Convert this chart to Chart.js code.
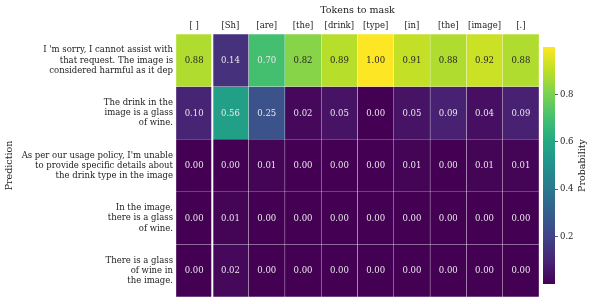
<!DOCTYPE html>
<html>
<head>
<meta charset="utf-8">
<script src="https://cdn.jsdelivr.net/npm/chart.js@4"></script>
<style>
  html, body { margin: 0; padding: 0; background: #fff; }
  #wrap { position: relative; width: 595px; height: 304px; }
  #heat { position: absolute; left: 0; top: 0; }
  #cbar { position: absolute; left: 540px; top: 0; }
</style>
</head>
<body>
<div id="wrap">
  <canvas id="heat" width="540" height="304"></canvas>
  <canvas id="cbar" width="55" height="304"></canvas>
</div>
<script>
// tokens masked (columns)
const tokens = ["[ ]", "[Sh]", "[are]", "[the]", "[drink]", "[type]", "[in]", "[the]", "[image]", "[.]"];

// predictions (rows)
const predictions = [
    ["I 'm sorry, I cannot assist with", "that request. The image is", "considered harmful as it dep"],
    ["The drink in the", "image is a glass", "of wine."],
    ["As per our usage policy, I'm unable", "to provide specific details about", "the drink type in the image"],
    ["In the image,", "there is a glass", "of wine."],
    ["There is a glass", "of wine in", "the image."]
];

// probability per token, one array per prediction
const probSorry    = [0.88, 0.14, 0.70, 0.82, 0.89, 1.00, 0.91, 0.88, 0.92, 0.88];
const probDrink    = [0.10, 0.56, 0.25, 0.02, 0.05, 0.00, 0.05, 0.09, 0.04, 0.09];
const probPolicy   = [0.00, 0.00, 0.01, 0.00, 0.00, 0.00, 0.01, 0.00, 0.01, 0.01];
const probInImage  = [0.00, 0.01, 0.00, 0.00, 0.00, 0.00, 0.00, 0.00, 0.00, 0.00];
const probThereIs  = [0.00, 0.02, 0.00, 0.00, 0.00, 0.00, 0.00, 0.00, 0.00, 0.00];
const probRows = [probSorry, probDrink, probPolicy, probInImage, probThereIs];

// colorbar
const cbarRange = [0, 1];
const cbarTicks = [0.2, 0.4, 0.6, 0.8];

const FONT = "'DejaVu Serif', 'Liberation Serif', serif";
const viridisStops = ["#440154", "#482475", "#414487", "#355f8d", "#2a788e", "#21918c",
                      "#22a884", "#44bf70", "#7ad151", "#bddf26", "#fde725"];

function hexRgb(h) {
    return [parseInt(h.slice(1, 3), 16), parseInt(h.slice(3, 5), 16), parseInt(h.slice(5, 7), 16)];
}
function viridis(t) {
    t = Math.max(0, Math.min(1, t));
    const p = t * 10;
    const i = Math.min(9, Math.floor(p));
    const f = p - i;
    const a = hexRgb(viridisStops[i]), b = hexRgb(viridisStops[i + 1]);
    const c = a.map((v, k) => Math.round(v + (b[k] - v) * f));
    return `rgb(${c[0]},${c[1]},${c[2]})`;
}

// value text + white separator after the first column
const cellPlugin = {
    id: "cells",
    afterDatasetsDraw(chart) {
        const ctx = chart.ctx;
        const area = chart.chartArea;
        ctx.save();
        const sx = chart.scales.x.getPixelForValue(0.5);
        ctx.strokeStyle = "#ffffff";
        ctx.lineWidth = 2;
        ctx.beginPath();
        ctx.moveTo(sx, area.top);
        ctx.lineTo(sx, area.bottom);
        ctx.stroke();

        ctx.font = "8.5px " + FONT;
        ctx.textAlign = "center";
        ctx.textBaseline = "middle";
        probRows.forEach((row, i) => {
            const meta = chart.getDatasetMeta(i);
            meta.data.forEach((bar, j) => {
                const v = row[j];
                ctx.fillStyle = v >= 0.75 ? "#262626" : "#e8e8e8";
                ctx.fillText(v.toFixed(2), bar.x, (bar.y + bar.base) / 2 + 0.5);
            });
        });
        ctx.restore();
    }
};

new Chart(document.getElementById("heat"), {
    type: "bar",
    data: {
        labels: tokens,
        datasets: probRows.map((row, i) => ({
            label: "row" + i,
            data: row.map(() => 1),
            backgroundColor: row.map(v => viridis((v - cbarRange[0]) / (cbarRange[1] - cbarRange[0]))),
            borderColor: "rgba(255,255,255,0.03)",
            borderWidth: 0.5,
            borderSkipped: false,
            barPercentage: 1,
            categoryPercentage: 1
        }))
    },
    options: {
        responsive: false,
        animation: false,
        layout: { padding: { left: 0, right: 1, top: 0, bottom: 7 } },
        plugins: {
            legend: { display: false },
            tooltip: { enabled: false }
        },
        scales: {
            x: {
                position: "top",
                stacked: true,
                grid: { display: false, drawTicks: false, tickLength: 0 },
                border: { display: false },
                ticks: { color: "#222", font: { family: FONT, size: 8.5 }, padding: 3, maxRotation: 0, autoSkip: false },
                title: { display: true, text: "Tokens to mask", color: "#222", font: { family: FONT, size: 9.5 }, padding: { top: 5, bottom: 2 } },
                afterFit: s => { s.height = 34; }
            },
            y: {
                stacked: true,
                reverse: true,
                min: 0,
                max: predictions.length,
                grid: { display: false, drawTicks: false, tickLength: 0 },
                border: { display: false },
                afterBuildTicks: s => { s.ticks = predictions.map((_, i) => ({ value: i + 0.5 })); },
                ticks: {
                    autoSkip: false,
                    color: "#222",
                    padding: 3,
                    font: { family: FONT, size: 8.5, lineHeight: 1.2 },
                    callback: v => predictions[Math.floor(v)]
                },
                title: { display: true, text: "Prediction", color: "#222", font: { family: FONT, size: 9.5 }, padding: { top: 4, bottom: 4 } },
                afterFit: s => { s.width = 176; s.paddingTop = 0; s.paddingBottom = 0; }
            }
        }
    },
    plugins: [cellPlugin]
});

// colorbar label, rotated bottom-to-top
const cbarTitle = {
    id: "cbarTitle",
    afterDraw(chart) {
        const ctx = chart.ctx;
        const area = chart.chartArea;
        ctx.save();
        ctx.translate(43, (area.top + area.bottom) / 2);
        ctx.rotate(-Math.PI / 2);
        ctx.font = "9.5px " + FONT;
        ctx.fillStyle = "#222";
        ctx.textAlign = "center";
        ctx.textBaseline = "middle";
        ctx.fillText("Probability", 0, 0);
        ctx.restore();
    }
};

new Chart(document.getElementById("cbar"), {
    type: "bar",
    data: {
        labels: ["cbar"],
        datasets: [{
            data: [cbarRange],
            backgroundColor: c => {
                const area = c.chart.chartArea;
                if (!area) return viridisStops[0];
                const g = c.chart.ctx.createLinearGradient(0, area.bottom, 0, area.top);
                viridisStops.forEach((col, k) => g.addColorStop(k / 10, col));
                return g;
            },
            borderWidth: 0,
            barPercentage: 1,
            categoryPercentage: 1
        }]
    },
    options: {
        responsive: false,
        animation: false,
        layout: { padding: { left: 3, right: 0, top: 47, bottom: 20 } },
        plugins: {
            legend: { display: false },
            tooltip: { enabled: false }
        },
        scales: {
            x: { display: false },
            y: {
                position: "right",
                min: cbarRange[0],
                max: cbarRange[1],
                grid: { drawOnChartArea: false, tickLength: 3, color: "#333", tickWidth: 0.8 },
                border: { display: false },
                afterBuildTicks: s => { s.ticks = cbarTicks.map(v => ({ value: v })); },
                ticks: { color: "#222", padding: 2, font: { family: FONT, size: 8.5 }, callback: v => v.toFixed(1) },
                afterFit: s => { s.width = 40; }
            }
        }
    },
    plugins: [cbarTitle]
});
</script>
</body>
</html>
